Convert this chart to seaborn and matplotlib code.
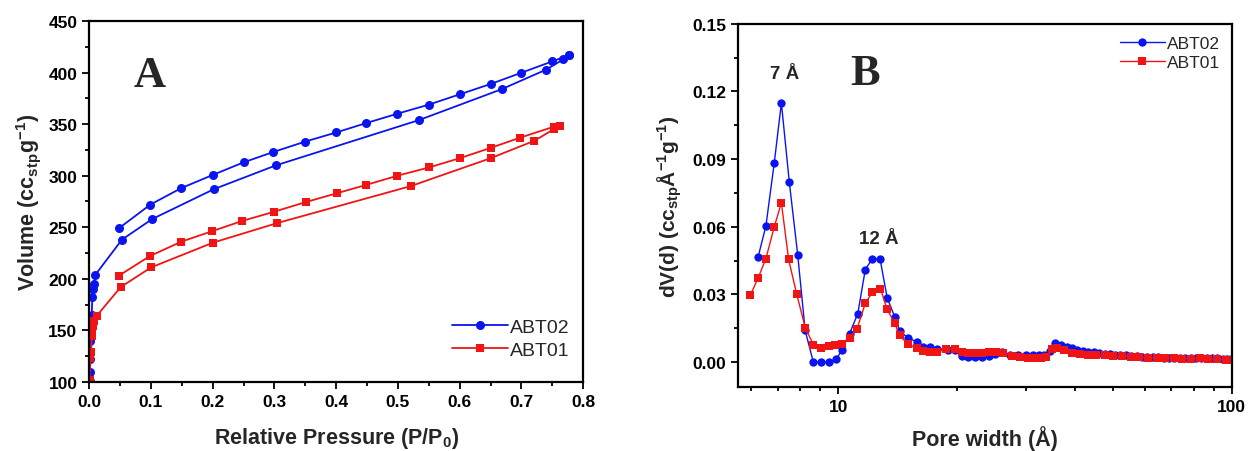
import numpy as np
import pandas as pd
import matplotlib
matplotlib.use("Agg")
import matplotlib.pyplot as plt
import matplotlib.ticker as mticker
import seaborn as sns

# ---- panel A: N2 isotherms (adsorption / desorption branches)
a_blue_ads_p = [0.0005, 0.001, 0.0015, 0.002, 0.003, 0.004, 0.005, 0.006, 0.008, 0.010,
                0.053, 0.102, 0.202, 0.302, 0.534, 0.668, 0.740, 0.768, 0.777]
a_blue_ads_v = [101, 110, 122, 140, 155, 165, 182, 190, 195, 204,
                238, 258, 287, 310, 354, 384, 403, 413, 417]
a_blue_des_p = [0.777, 0.750, 0.700, 0.650, 0.600, 0.550, 0.498, 0.448, 0.400, 0.349,
                0.298, 0.250, 0.201, 0.149, 0.099, 0.048]
a_blue_des_v = [417, 411, 400, 389, 379, 369, 360, 351, 342, 333,
                323, 313, 301, 288, 272, 249]

a_red_ads_p = [0.0005, 0.002, 0.003, 0.004, 0.005, 0.006, 0.007, 0.012,
               0.051, 0.100, 0.200, 0.304, 0.521, 0.650, 0.721, 0.752, 0.762]
a_red_ads_v = [102, 123, 129, 144, 149, 154, 159, 164,
               192, 211, 235, 254, 290, 317, 334, 345, 348]
a_red_des_p = [0.762, 0.752, 0.698, 0.650, 0.600, 0.550, 0.499, 0.448, 0.401, 0.351,
               0.299, 0.247, 0.198, 0.149, 0.098, 0.048]
a_red_des_v = [348, 347.5, 337, 327, 317, 308, 300, 291, 283, 274.5,
               265, 256, 246, 236, 222, 203]

# ---- panel B: pore size distribution
b_blue_w = [6.25, 6.54, 6.87, 7.16, 7.50, 7.88, 8.23, 8.63, 9.03, 9.47,
            9.87, 10.2, 10.67, 11.2, 11.7, 12.2, 12.76, 13.3, 13.9, 14.3,
            15.0, 15.8, 16.4, 17.1, 17.8, 18.96, 19.8, 20.6, 21.3, 22.2,
            23.1, 24.1, 25.0, 26.0, 27.3, 28.6, 29.9, 31.3, 32.4, 33.4,
            34.4, 35.6, 36.8, 38.0, 39.2, 40.5, 41.8, 43.2, 44.6, 46.0,
            47.5, 49.0, 50.5, 52.1, 53.8, 55.5, 57.3, 59.1, 61.0, 63.0,
            65.0, 67.1, 69.2, 71.4, 73.7, 76.1, 78.5, 81.0, 83.6, 86.3,
            89.0, 91.9, 94.8, 97.0, 99.5]
b_blue_dv = [0.0467, 0.0603, 0.0885, 0.1149, 0.0798, 0.0474, 0.0140, 0.0, 0.0, 0.0,
             0.0012, 0.0053, 0.0126, 0.0215, 0.0410, 0.0459, 0.0456, 0.0285, 0.0200, 0.0139,
             0.0107, 0.0090, 0.0067, 0.0067, 0.0058, 0.0055, 0.0055, 0.0025, 0.0024, 0.0024,
             0.0024, 0.0027, 0.0036, 0.0046, 0.0030, 0.0032, 0.0032, 0.0030, 0.0030, 0.0033,
             0.0048, 0.0083, 0.0075, 0.0068, 0.0060, 0.0055, 0.0050, 0.0046, 0.0043, 0.0040,
             0.0037, 0.0035, 0.0033, 0.0031, 0.0029, 0.0027, 0.0025, 0.0024, 0.0022, 0.0022,
             0.0021, 0.0020, 0.0020, 0.0019, 0.0017, 0.0018, 0.0018, 0.0019, 0.0019, 0.0020,
             0.0018, 0.0016, 0.0014, 0.0013, 0.0012]

b_red_w = [5.97, 6.25, 6.54, 6.87, 7.16, 7.47, 7.83, 8.24, 8.64, 9.03,
           9.48, 9.80, 10.2, 10.67, 11.15, 11.7, 12.2, 12.78, 13.3, 13.9,
           14.3, 15.0, 15.8, 16.4, 17.1, 17.8, 18.8, 19.8, 20.6, 21.3,
           22.2, 23.1, 24.1, 25.2, 26.2, 27.6, 29.0, 30.4, 31.6, 32.8,
           33.7, 34.9, 36.0, 37.5, 39.2, 41.0, 43.0, 45.2, 47.5, 50.0,
           52.6, 55.3, 58.2, 61.2, 64.4, 67.7, 71.2, 74.9, 78.8, 82.9,
           87.2, 91.7, 96.5, 99.5]
b_red_dv = [0.0296, 0.0373, 0.0459, 0.0600, 0.0707, 0.0455, 0.0302, 0.0150, 0.0076, 0.0063,
            0.0070, 0.0074, 0.0082, 0.0108, 0.0148, 0.0260, 0.0310, 0.0326, 0.0233, 0.0172,
            0.0118, 0.0080, 0.0061, 0.0048, 0.0045, 0.0045, 0.0058, 0.0058, 0.0045, 0.0042,
            0.0041, 0.0042, 0.0046, 0.0043, 0.0040, 0.0028, 0.0022, 0.0018, 0.0018, 0.0020,
            0.0024, 0.0058, 0.0061, 0.0053, 0.0040, 0.0034, 0.0032, 0.0032, 0.0031, 0.0028,
            0.0026, 0.0024, 0.0022, 0.0020, 0.0018, 0.0017, 0.0016, 0.0015, 0.0015, 0.0016,
            0.0014, 0.0012, 0.0010, 0.0009]

BLUE = "#0a14f0"
RED = "#f01414"

sns.set_theme(style="ticks")
plt.rcParams["font.family"] = ["Liberation Sans", "DejaVu Sans"]
plt.rcParams["mathtext.fontset"] = "custom"
plt.rcParams["mathtext.rm"] = "Liberation Sans"
plt.rcParams["mathtext.bf"] = "Liberation Sans:bold"
plt.rcParams["mathtext.default"] = "bf"

fig = plt.figure(figsize=(12.57, 4.52), dpi=100)
axA = fig.add_axes([0.071, 0.153, 0.393, 0.798])
axB = fig.add_axes([0.587, 0.142, 0.393, 0.803])


def branch(ax, x, y, color, marker, ms, lw, label=None):
    sns.lineplot(x=x, y=y, ax=ax, color=color, marker=marker, markersize=ms,
                 markeredgewidth=0, linewidth=lw, sort=False, label=label,
                 errorbar=None)


# panel A
branch(axA, a_blue_ads_p, a_blue_ads_v, BLUE, "o", 6.5, 1.3, "ABT02")
branch(axA, a_blue_des_p, a_blue_des_v, BLUE, "o", 6.5, 1.3)
branch(axA, a_red_ads_p, a_red_ads_v, RED, "s", 6, 1.3, "ABT01")
branch(axA, a_red_des_p, a_red_des_v, RED, "s", 6, 1.3)
axA.set_xlim(0, 0.8)
axA.set_ylim(100, 450)
axA.xaxis.set_major_locator(mticker.MultipleLocator(0.1))
axA.xaxis.set_minor_locator(mticker.MultipleLocator(0.05))
axA.yaxis.set_major_locator(mticker.MultipleLocator(50))
axA.yaxis.set_minor_locator(mticker.MultipleLocator(25))
axA.xaxis.set_major_formatter(mticker.FormatStrFormatter("%.1f"))
axA.set_xlabel("Relative Pressure (P/P$_0$)", fontsize=15.5, fontweight="bold", labelpad=12)
axA.set_ylabel("Volume (cc$_{stp}$g$^{-1}$)", fontsize=15.5, fontweight="bold", labelpad=4)
axA.text(0.098, 398, "A", family="Liberation Serif", fontweight="bold", fontsize=32,
         ha="center", va="center")
axA.legend(loc="lower right", bbox_to_anchor=(1.0, 0.025), frameon=False, fontsize=14,
           handlelength=2.9, handletextpad=0.1, labelspacing=0.3, borderaxespad=0.3)

# panel B
branch(axB, b_blue_w, b_blue_dv, BLUE, "o", 6, 1.0, "ABT02")
branch(axB, b_red_w, b_red_dv, RED, "s", 5.4, 1.0, "ABT01")
axB.set_xscale("log")
axB.set_xlim(5.55, 100)
axB.set_ylim(-0.011, 0.15)
axB.yaxis.set_major_locator(mticker.MultipleLocator(0.03))
axB.yaxis.set_minor_locator(mticker.MultipleLocator(0.015))
axB.yaxis.set_major_formatter(mticker.FormatStrFormatter("%.2f"))
axB.xaxis.set_major_formatter(mticker.FormatStrFormatter("%d"))
axB.xaxis.set_minor_formatter(mticker.NullFormatter())
axB.set_xlabel("Pore width (Å)", fontsize=15.5, fontweight="bold", labelpad=8)
axB.set_ylabel("dV(d) (cc$_{stp}$Å$^{-1}$g$^{-1}$)", fontsize=15, fontweight="bold", labelpad=6)
axB.text(7.28, 0.128, "7 Å", fontsize=13.5, fontweight="bold", ha="center", va="center")
axB.text(12.7, 0.0547, "12 Å", fontsize=13.5, fontweight="bold", ha="center", va="center")
axB.text(11.7, 0.128, "B", family="Liberation Serif", fontweight="bold", fontsize=32,
         ha="center", va="center")
axB.legend(loc="upper right", frameon=False, fontsize=12.5, handlelength=2.6,
           handletextpad=0.1, labelspacing=0.2, borderaxespad=0.3)

for ax in (axA, axB):
    for s in ax.spines.values():
        s.set_linewidth(1.6)
        s.set_color("black")
    ax.tick_params(which="both", direction="out", top=False, right=False,
                   width=1.3, colors="black")
    ax.tick_params(which="major", length=5, labelsize=12.5)
    ax.tick_params(which="minor", length=3)
    for lab in ax.get_xticklabels() + ax.get_yticklabels():
        lab.set_fontweight("bold")

fig.savefig("out.png", dpi=100)
